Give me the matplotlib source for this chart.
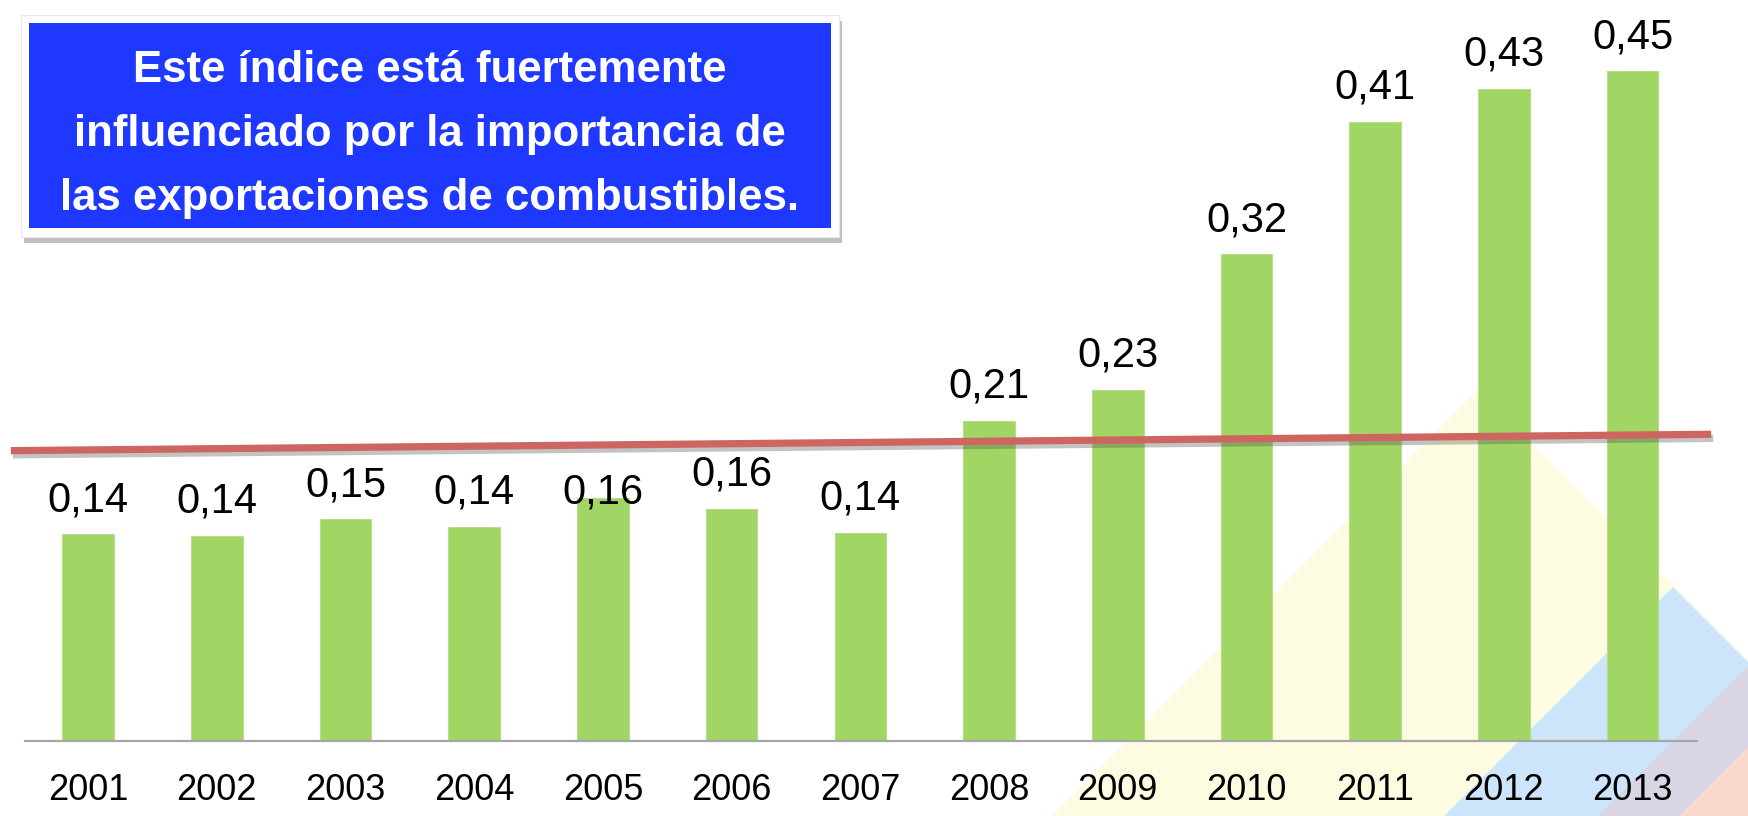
"""Indice de exportaciones 2001-2013: barras verdes, linea de referencia roja y recuadro azul."""
import matplotlib
matplotlib.use("Agg")
import matplotlib.pyplot as plt
import matplotlib.patheffects as pe
from matplotlib import font_manager
from matplotlib.patches import Polygon, Rectangle

# --- datos ---
years = ["2001", "2002", "2003", "2004", "2005", "2006", "2007",
         "2008", "2009", "2010", "2011", "2012", "2013"]
values = [0.139, 0.138, 0.149, 0.144, 0.163, 0.156, 0.140,
          0.215, 0.236, 0.327, 0.416, 0.438, 0.450]
labels = ["0,14", "0,14", "0,15", "0,14", "0,16", "0,16", "0,14",
          "0,21", "0,23", "0,32", "0,41", "0,43", "0,45"]
ref_x = [-0.60, 12.61]       # linea roja (anotacion)
ref_y = [0.195, 0.206]
note = ["Este índice está fuertemente",
        "influenciado por la importancia de",
        "las exportaciones de combustibles."]

GREEN = "#A1D564"
RED = "#CD6660"
BLUE = "#1F38FF"
W, H = 1748, 816

names = {f.name for f in font_manager.fontManager.ttflist}
NUM_FONT = "Liberation Sans Narrow" if "Liberation Sans Narrow" in names else "Liberation Sans"

fig = plt.figure(figsize=(W / 100, H / 100), dpi=100)


def fx(x):
    return x / W


def fy(y):
    return 1 - y / H


# --- triangulos de fondo (pixeles de la figura) ---
tri = [
    ([(1478, 390), (1052, 816), (1904, 816)], "#FEFCE0"),
    ([(1673, 587), (1444, 816), (1902, 816)], "#CCE5FA"),
    ([(1748, 666), (1598, 816), (1748, 816)], "#D9D5E4"),
    ([(1748, 747), (1679, 816), (1748, 816)], "#F8D9CE"),
]
for pts, c in tri:
    fig.add_artist(Polygon([(fx(x), fy(y)) for x, y in pts], closed=True,
                           transform=fig.transFigure, fc=c, ec="none", zorder=-2))

# --- ejes ---
ax = fig.add_axes([fx(25), 75 / H, 1672 / W, 741 / H])
ax.patch.set_alpha(0)
xs = range(len(years))
ax.bar(xs, values, width=0.40, color=GREEN, edgecolor="#B6DF88", lw=0.8, zorder=2)
ax.set_xlim(-0.49, 12.5)
ax.set_ylim(0, 741 / 1489)

for s in ["top", "right", "left"]:
    ax.spines[s].set_visible(False)
ax.spines["bottom"].set_color("#A6A6A6")
ax.spines["bottom"].set_linewidth(1.6)
ax.spines["bottom"].set_zorder(3)
ax.set_yticks([])
ax.set_xticks(list(xs))
ax.set_xticklabels(years, fontsize=26, family=NUM_FONT, color="black")
ax.tick_params(axis="x", length=0, pad=23)

# la etiqueta de 2005 esta bajada en el original (queda bajo la linea roja)
lift = {4: -3.5}
for i, (x, v, lab) in enumerate(zip(xs, values, labels)):
    ax.annotate(lab, (x, v), xytext=(0, lift.get(i, 16.5)), textcoords="offset points",
                ha="center", va="baseline", fontsize=30, family=NUM_FONT,
                color="black", zorder=4, annotation_clip=False)

ax.plot(ref_x, ref_y, color=RED, lw=5.2, solid_capstyle="butt", clip_on=False, zorder=5,
        path_effects=[pe.SimpleLineShadow(offset=(1.5, -3), alpha=0.35, shadow_color="#555555"),
                      pe.Normal()])

# --- recuadro azul ---
outer = Rectangle((fx(21), fy(237)), 818 / W, 222 / H, transform=fig.transFigure,
                  fc="white", ec="#E8E8E8", lw=0.8, zorder=6,
                  path_effects=[pe.withSimplePatchShadow(offset=(2, -4), alpha=0.35)])
fig.add_artist(outer)
fig.add_artist(Rectangle((fx(28.5), fy(228)), 802.5 / W, 205 / H, transform=fig.transFigure,
                         fc=BLUE, ec="none", zorder=7))
for i, line in enumerate(note):
    fig.text(fx(430), fy(82 + i * 64), line, ha="center", va="baseline",
             fontsize=31.5, fontweight="bold", color="white",
             family="Liberation Sans", zorder=8)

fig.savefig("out.png", dpi=100)
